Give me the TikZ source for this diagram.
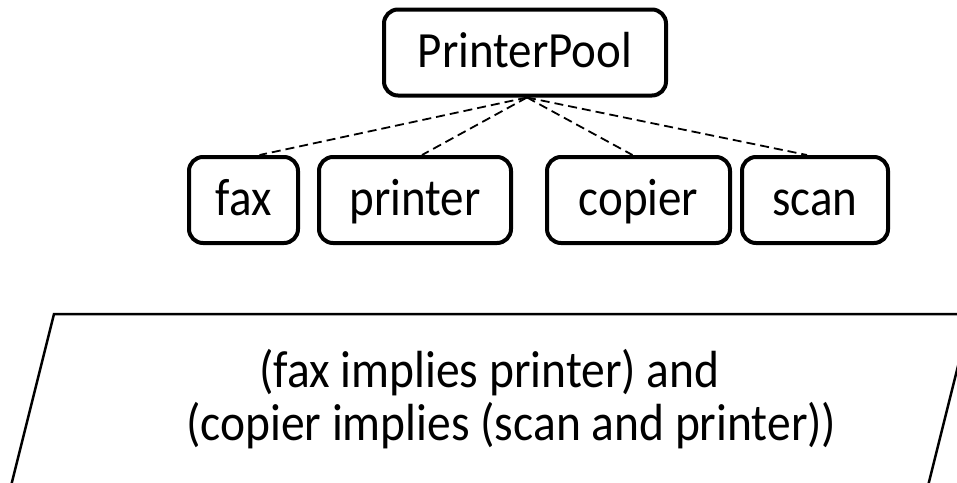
\documentclass[tikz,border=0pt]{standalone}
\usepackage{fontspec}
\setmainfont{Carlito}
\begin{document}
\begin{tikzpicture}[x=1pt,y=-1pt,
  featbox/.style={draw=black, line width=4pt, rounded corners=14pt,
    minimum height=86pt, inner sep=0pt, text height=30pt, text depth=0pt,
    font=\fontsize{47}{56}\selectfont},
  featlink/.style={draw=black, line width=1.8pt, dash pattern=on 9pt off 5pt},
  constraint/.style={inner sep=0pt, anchor=base west, font=\fontsize{47.5}{57}\selectfont}]
  \useasboundingbox (0,0) rectangle (957,482);
  \clip (0,0) rectangle (957,482);

  % feature tree
  \node[featbox, minimum width=282pt] (pool) at (525,52.5) {\scalebox{1}[1.08]{PrinterPool}};
  \node[featbox, minimum width=109pt] (fax) at (243.5,200) {\scalebox{1}[1.12]{fax}};
  \node[featbox, minimum width=192pt] (printer) at (415,200) {\scalebox{1}[1.12]{printer}};
  \node[featbox, minimum width=183pt] (copier) at (638.5,200) {\scalebox{1}[1.12]{copier}};
  \node[featbox, minimum width=146pt] (scan) at (815,200) {\scalebox{1}[1.12]{scan}};

  \draw[featlink] ([xshift=2pt]pool.south) -- ([xshift=16pt]fax.north);
  \draw[featlink] ([xshift=2pt]pool.south) -- ([xshift=7pt]printer.north);
  \draw[featlink] ([xshift=2pt]pool.south) -- ([xshift=-6pt]copier.north);
  \draw[featlink] ([xshift=2pt]pool.south) -- ([xshift=-8pt]scan.north);

  % cross-tree constraint
  \draw[line width=2.5pt, line join=miter]
    (54,314) -- (971,314) -- (924,502) -- (7,502) -- cycle;
  \node[constraint] (cond1) at (259,387) {\scalebox{1}[1.1]{(fax implies printer) and}};
  \node[constraint] (cond2) at (186,440) {\scalebox{1}[1.1]{(copier implies (scan and printer))}};
\end{tikzpicture}
\end{document}
